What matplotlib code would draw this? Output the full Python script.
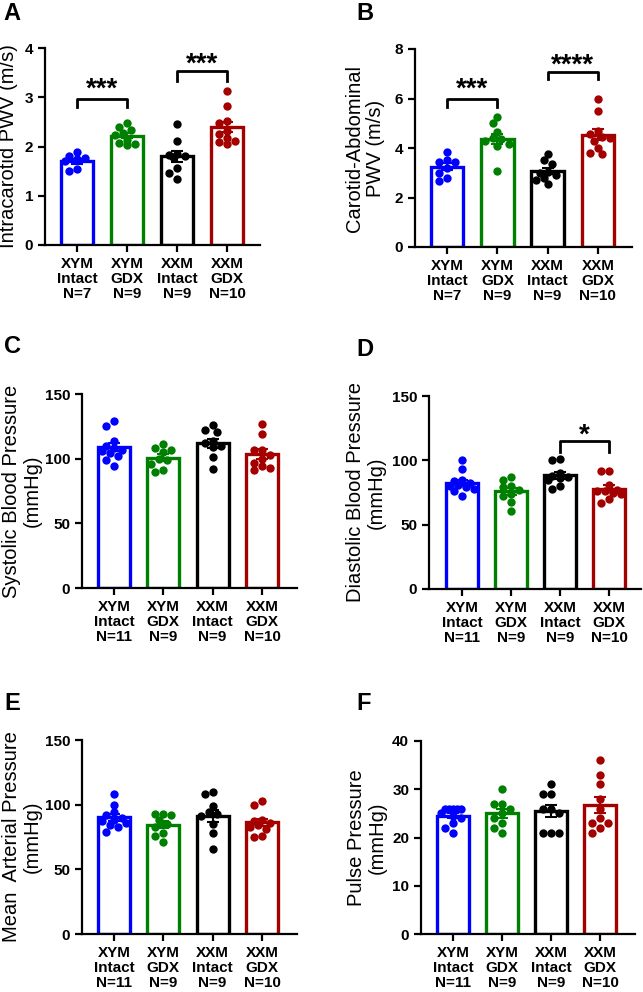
import matplotlib.pyplot as plt
import numpy as np

plt.rcParams['font.family'] = ['Liberation Sans', 'DejaVu Sans']

groups = ['XYM\nIntact', 'XYM\nGDX', 'XXM\nIntact', 'XXM\nGDX']
colors = ['#0000FF', '#008000', '#000000', '#A50000']
n_pwv = [7, 9, 9, 10]
n_bp = [11, 9, 9, 10]

# A - intracarotid PWV (m/s)
pwv_ic = [[1.88, 1.80, 1.76, 1.74, 1.70, 1.55, 1.50],
          [2.47, 2.40, 2.34, 2.27, 2.23, 2.13, 2.07, 2.05, 2.03],
          [2.46, 2.12, 1.85, 1.82, 1.80, 1.78, 1.56, 1.46, 1.35],
          [3.13, 2.82, 2.52, 2.47, 2.32, 2.25, 2.17, 2.12, 2.10, 2.06]]
# B - carotid-abdominal PWV (m/s)
pwv_ca = [[3.85, 3.50, 3.45, 3.45, 3.20, 3.00, 2.78, 2.65],
          [5.25, 5.00, 4.65, 4.40, 4.35, 4.30, 4.15, 4.10, 3.08],
          [3.75, 3.50, 3.35, 3.05, 3.00, 2.90, 2.80, 2.70, 2.55],
          [6.00, 5.50, 4.70, 4.55, 4.45, 4.40, 4.30, 4.00, 3.78, 3.75]]
# C - systolic BP (mmHg)
sbp = [[129, 125, 114, 110, 108, 107, 106, 104, 102, 99, 94],
       [111, 108, 107, 105, 100, 99, 96, 91, 90],
       [126, 122, 121, 114, 112, 110, 109, 101, 92],
       [127, 119, 107, 107, 103, 100, 97, 94, 93, 91]]
# D - diastolic BP (mmHg)
dbp = [[100, 93, 85, 84, 82, 81, 80, 79, 78, 76, 72],
       [87, 85, 80, 79, 77, 74, 72, 68, 61],
       [101, 100, 90, 88, 87, 86, 85, 80, 78],
       [92, 92, 81, 76, 77, 76, 75, 74, 70, 67]]
# E - mean arterial pressure (mmHg)
map_ = [[108, 100, 94, 92, 90, 88, 87, 86, 84, 83, 79],
        [93, 93, 92, 88, 85, 83, 78, 76, 71],
        [110, 108, 99, 94, 93, 91, 85, 78, 66],
        [103, 100, 88, 87, 86, 84, 83, 81, 76, 75]]
# F - pulse pressure (mmHg)
pp = [[26, 26, 26, 26, 26, 25, 24.5, 24, 23, 22, 21],
      [30, 27, 27, 26, 25, 24, 23, 22, 21],
      [31, 29, 29, 26, 26, 25, 21, 21, 21],
      [36, 33, 31, 28, 26, 24, 23, 23, 22, 21]]

W, H = 643, 992
fig = plt.figure(figsize=(W / 100, H / 100), dpi=100)


def box(l, t, r, b):
    return [l / W, 1 - b / H, (r - l) / W, (b - t) / H]


def swarm(ax, xc, vals, dot=8.0, maxoff=14.0):
    # spread points sideways inside the bar so they don't pile up
    x0 = ax.transData.transform((xc, 0))[0]
    x1 = ax.transData.transform((xc + 1, 0))[0]
    ppu = x1 - x0
    cands = [0.0]
    k = 1
    while k * dot * 0.5 <= maxoff:
        cands += [-k * dot * 0.5, k * dot * 0.5]
        k += 1
    placed = []
    xs = []
    for v in vals:
        yd = ax.transData.transform((0, v))[1]
        best, bestd = 0.0, -1
        for off in cands:
            d = min([np.hypot(off - px, yd - py) for px, py in placed] or [99])
            if d >= dot * 0.9:
                best = off
                break
            if d > bestd:
                best, bestd = off, d
        placed.append((best, yd))
        xs.append(xc + best / ppu)
    return xs


def panel(pos, xlim, data, ns, ymax, ystep, ylabel, letter, letter_xy, labelpad=3):
    ax = fig.add_axes(box(*pos))
    ax.set_xlim(*xlim)
    ax.set_ylim(0, ymax)
    x = np.arange(4)
    for i, vals in enumerate(data):
        vals = np.array(vals, float)
        m = vals.mean()
        se = vals.std(ddof=1) / np.sqrt(len(vals))
        ax.bar(x[i], m, width=0.65, facecolor='white', edgecolor=colors[i],
               linewidth=2.4, zorder=2)
        ax.scatter(swarm(ax, x[i], vals), vals, s=36, color=colors[i],
                   zorder=3, linewidths=0)
        ax.errorbar(x[i], m, yerr=se, color=colors[i], capsize=4.5,
                    elinewidth=1.5, capthick=1.5, zorder=4)
    ax.set_xticks(x)
    ax.set_xticklabels([f'{g}\nN={n}' for g, n in zip(groups, ns)],
                       fontsize=11, fontweight='bold', linespacing=1.12)
    ax.set_yticks(np.arange(0, ymax + 0.01, ystep))
    ax.tick_params(axis='y', labelsize=11, width=1.6, length=5)
    ax.tick_params(axis='x', width=1.6, length=5)
    for t in ax.get_yticklabels():
        t.set_fontweight('bold')
    for s in ['top', 'right']:
        ax.spines[s].set_visible(False)
    for s in ['left', 'bottom']:
        ax.spines[s].set_linewidth(1.6)
    ax.set_ylabel(ylabel, fontsize=14.5, linespacing=1.12, labelpad=labelpad)
    fig.text(letter_xy[0] / W, 1 - letter_xy[1] / H, letter, fontsize=17,
             fontweight='bold', ha='left', va='top')
    return ax


def bracket(ax, i, j, y, drop, sy, stars, fs=20):
    ax.plot([i, i, j, j], [y - drop, y, y, y - drop], color='black', lw=2,
            clip_on=False, zorder=5)
    ax.text((i + j) / 2, sy, stars, ha='center', va='center', fontsize=fs,
            fontweight='bold', clip_on=False)


axA = panel((45, 48, 260, 245), (-0.64, 3.66), pwv_ic, n_pwv, 4, 1,
            'Intracarotid PWV (m/s)', 'A', (3, 2), labelpad=5)
bracket(axA, 0, 1, 2.96, 0.16, 3.15, '***')
bracket(axA, 2, 3, 3.53, 0.21, 3.66, '***')

axB = panel((415, 49, 632, 247), (-0.64, 3.68), pwv_ca, n_pwv, 8, 2,
            'Carotid-Abdominal\nPWV (m/s)', 'B', (356, 2), labelpad=7)
bracket(axB, 0, 1, 5.97, 0.33, 6.34, '***')
bracket(axB, 2, 3, 7.08, 0.30, 7.34, '****')

panel((82, 394, 297, 588), (-0.65, 3.71), sbp, n_bp, 150, 50,
      'Systolic Blood Pressure\n(mmHg)', 'C', (4, 335), labelpad=2)

axD = panel((429, 396, 641, 589), (-0.67, 3.65), dbp, n_bp, 150, 50,
            'Diastolic Blood Pressure\n(mmHg)', 'D', (356, 338), labelpad=4)
bracket(axD, 2, 3, 115, 8.5, 119, '*')

panel((82, 740, 297, 934), (-0.65, 3.71), map_, n_bp, 150, 50,
      'Mean  Arterial Pressure\n(mmHg)', 'E', (4, 692), labelpad=2)

panel((421, 741, 635, 934), (-0.65, 3.71), pp, n_bp, 40, 10,
      'Pulse Pressure\n(mmHg)', 'F', (356, 692), labelpad=4)

fig.savefig('out.png', dpi=100)
